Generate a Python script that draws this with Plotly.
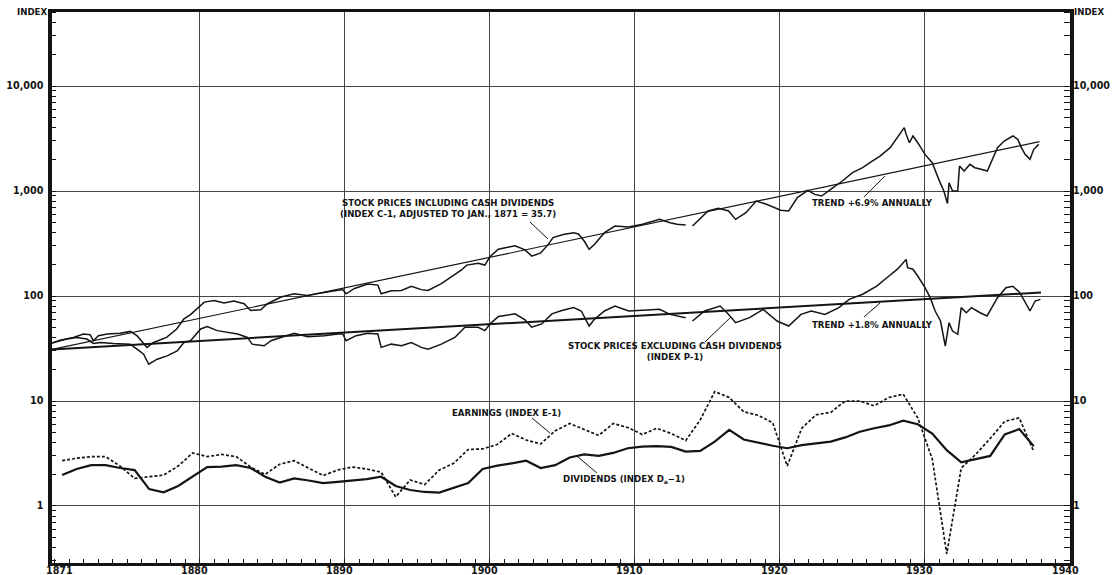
import plotly.graph_objects as go

# --- Stock price index including cash dividends (Index C-1), monthly-ish readings
c1_years = [1869.8, 1870.36, 1871.28, 1871.97, 1872.43, 1872.66, 1873.0, 1873.6, 1874.5, 1875.2,
            1875.66, 1876.1, 1876.35, 1876.8, 1877.7, 1878.4, 1878.9, 1879.35, 1879.8, 1880.3,
            1880.97, 1881.66, 1882.35, 1883.05, 1883.5, 1884.2, 1884.66, 1885.6, 1886.5, 1887.4,
            1888.35, 1889.27, 1889.85, 1890.08, 1890.66, 1891.58, 1892.27, 1892.5, 1893.2, 1893.9,
            1894.58, 1895.27, 1895.73, 1896.65, 1897.35, 1898.04, 1898.4, 1899.2, 1899.65, 1900.0,
            1900.58, 1901.73, 1902.42, 1902.88, 1903.5, 1904.0, 1904.35, 1905.06, 1905.77, 1906.1,
            1906.5, 1906.84, 1907.2, 1907.9, 1908.62, 1909.57, 1910.52, 1911.7, 1912.42, 1912.9,
            1913.5, None, 1913.97, 1914.56, 1915.04, 1915.75, 1916.46, 1916.94, 1917.65, 1918.36,
            1919.07, 1920.05, 1920.6, 1921.2, 1921.92, 1922.4, 1922.87, 1923.59, 1924.3, 1925.0,
            1925.7, 1926.2, 1926.9, 1927.6, 1928.1, 1928.57, 1928.7, 1928.93, 1929.17, 1929.5,
            1930.0, 1930.5, 1930.95, 1931.3, 1931.55, 1931.66, 1931.9, 1932.26, 1932.38, 1932.7,
            1933.1, 1933.44, 1933.8, 1934.3, 1935.0, 1935.46, 1936.06, 1936.4, 1936.65, 1936.9,
            1937.24, 1937.5, 1937.84]
c1_values = [35.7, 38.0, 40.3, 43.5, 42.8, 37.5, 41.9, 43.5, 44.1, 46.0,
             41.9, 35.3, 32.4, 36.1, 40.3, 48.5, 60.5, 66.6, 75.5, 87.5,
             90.8, 85.7, 89.6, 84.4, 72.8, 73.9, 84.4, 97.7, 105, 101,
             107, 112, 115, 105, 118, 130, 127, 105, 112, 113,
             124, 115, 113, 131, 152, 177, 197, 205, 197, 237,
             279, 301, 275, 240, 257, 307, 360, 386, 401, 390,
             334, 278, 310, 401, 464, 454, 482, 537, 499, 482,
             475, None, 464, 557, 646, 684, 646, 537, 622, 803,
             747, 655, 646, 865, 1014, 929, 896, 1060, 1245, 1496,
             1667, 1862, 2153, 2588, 3223, 4010, 3467, 2884, 3342, 2884,
             2233, 1862, 1291, 1000, 760, 1200, 1000, 1000, 1730, 1550,
             1795, 1667, 1620, 1550, 2588, 2995, 3342, 3105, 2588, 2233,
             2003, 2495, 2782]

# --- Stock price index excluding cash dividends (Index P-1)
p1_years = [1869.8, 1870.82, 1871.5, 1872.2, 1872.66, 1873.13, 1874.05, 1875.2, 1875.66, 1876.12,
            1876.47, 1877.05, 1877.74, 1878.43, 1878.9, 1879.35, 1880.05, 1880.5, 1881.2, 1881.9,
            1882.6, 1883.28, 1883.6, 1884.43, 1884.9, 1885.58, 1886.5, 1887.43, 1888.58, 1889.5,
            1889.85, 1890.08, 1890.77, 1891.58, 1892.27, 1892.5, 1893.2, 1893.9, 1894.58, 1895.27,
            1895.73, 1896.65, 1897.58, 1898.27, 1899.19, 1899.65, 1900.0, 1900.58, 1901.73, 1902.42,
            1902.88, 1903.57, 1904.27, 1904.96, 1905.77, 1906.3, 1906.84, 1907.2, 1907.9, 1908.62,
            1909.57, 1910.52, 1911.7, 1912.42, 1913.5, None, 1913.97, 1914.8, 1915.87, 1916.46,
            1916.94, 1917.9, 1918.84, 1919.8, 1920.6, 1921.45, 1922.16, 1923.1, 1924.06, 1924.77,
            1925.7, 1926.67, 1927.39, 1928.1, 1928.7, 1928.8, 1929.17, 1929.5, 1930.0, 1930.36,
            1930.7, 1931.07, 1931.4, 1931.66, 1931.9, 1932.26, 1932.5, 1932.85, 1933.2, 1933.8,
            1934.28, 1935.0, 1935.58, 1936.06, 1936.53, 1936.9, 1937.24, 1937.6, 1937.96]
p1_values = [35.7, 38.9, 40.3, 38.9, 35.3, 36.1, 35.3, 34.8, 31.2, 27.9,
             22.4, 25.0, 26.9, 30.0, 36.1, 37.5, 48.5, 51.1, 46.8, 45.1,
             43.5, 40.3, 34.8, 33.6, 37.5, 40.3, 44.1, 40.9, 41.9, 43.5,
             43.5, 37.5, 41.9, 44.1, 43.5, 32.4, 34.8, 33.6, 36.1, 32.4,
             31.2, 34.8, 40.3, 50.4, 50.4, 46.8, 54.2, 63.7, 67.6, 59.2,
             50.4, 54.2, 67.6, 72.8, 77.5, 72.0, 51.8, 60.0, 72.0, 80.3,
             72.0, 73.0, 74.6, 66.8, 62.2, None, 57.8, 72.0, 80.3, 66.8,
             55.7, 62.2, 74.6, 57.8, 51.8, 66.8, 72.0, 66.8, 77.5, 92.9,
             104, 124, 150, 180, 223, 186, 180, 155, 120, 96.4,
             72.0, 57.8, 33.4, 55.7, 46.4, 43.2, 77.5, 69.3, 77.5, 69.3,
             64.6, 96.4, 120, 124, 108, 86.5, 72.0, 89.6, 92.9]

# --- Fitted trend lines (end points)
trend_c_years = [1869.8, 1937.9]
trend_c_values = [31, 2950]
trend_p_years = [1869.8, 1938.0]
trend_p_values = [31, 108]

# --- Annual earnings (Index E-1) and dividends, plotted at mid-year
annual_years = [y + 0.5 for y in range(1870, 1938)]
earnings = [2.7, 2.85, 2.95, 2.95, 2.4, 1.83, 1.9, 1.97, 2.4, 3.2,
            2.95, 3.1, 2.95, 2.35, 2.0, 2.5, 2.7, 2.3, 1.95, 2.2,
            2.35, 2.25, 2.1, 1.22, 1.77, 1.6, 2.2, 2.55, 3.45, 3.5,
            3.85, 4.9, 4.25, 3.9, 5.2, 6.1, 5.4, 4.7, 6.1, 5.6,
            4.8, 5.5, 4.9, 4.2, 6.6, 12.3, 10.8, 7.9, 7.3, 6.2,
            2.4, 5.5, 7.4, 7.8, 10.0, 10.0, 9.0, 10.8, 11.6, 6.9,
            2.8, 0.35, 2.3, 3.1, 4.4, 6.4, 6.9, 3.3]
dividends = [1.97, 2.25, 2.45, 2.45, 2.3, 2.2, 1.45, 1.35, 1.55, 1.9,
             2.35, 2.37, 2.45, 2.3, 1.9, 1.67, 1.83, 1.75, 1.65, 1.7,
             1.75, 1.8, 1.9, 1.55, 1.42, 1.36, 1.34, 1.5, 1.65, 2.25,
             2.42, 2.55, 2.7, 2.3, 2.45, 2.9, 3.1, 3.0, 3.2, 3.55,
             3.67, 3.72, 3.65, 3.3, 3.35, 4.1, 5.3, 4.3, 4.0, 3.75,
             3.55, 3.8, 3.95, 4.1, 4.5, 5.1, 5.5, 5.85, 6.5, 6.0,
             4.9, 3.4, 2.6, 2.8, 3.0, 4.8, 5.4, 3.7]

# --- Axis ticks
decade_ticks = [1880, 1890, 1900, 1910, 1920, 1930, 1940]
decade_labels = ["1880", "1890", "1900", "1910", "1920", "1930", "1940"]
first_year_label = "1871"
index_ticks = [1, 10, 100, 1000, 10000]
index_labels = ["1", "10", "100", "1,000", "10,000"]

INK = "#141414"
GRID = "#454545"
FONT = "DejaVu Sans"
X_RANGE = [1869.8, 1940]
Y_RANGE = [-0.543, 4.705]

fig = go.Figure()
fig.add_trace(go.Scatter(x=trend_c_years, y=trend_c_values, mode="lines",
                         line=dict(color=INK, width=1.2), yaxis="y2"))
fig.add_trace(go.Scatter(x=trend_p_years, y=trend_p_values, mode="lines",
                         line=dict(color=INK, width=2.0), yaxis="y2"))
fig.add_trace(go.Scatter(x=c1_years, y=c1_values, mode="lines", connectgaps=False,
                         line=dict(color=INK, width=1.5)))
fig.add_trace(go.Scatter(x=p1_years, y=p1_values, mode="lines", connectgaps=False,
                         line=dict(color=INK, width=1.5)))
fig.add_trace(go.Scatter(x=annual_years, y=earnings, mode="lines",
                         line=dict(color=INK, width=1.7, dash="3px,2px")))
fig.add_trace(go.Scatter(x=annual_years, y=dividends, mode="lines",
                         line=dict(color=INK, width=2.2)))

label_font = dict(family=FONT, size=8.6, color=INK, weight="bold")


def label(text, x, ylog):
    fig.add_annotation(x=x, y=ylog, xref="x", yref="y", text=text, showarrow=False,
                       font=label_font, align="center", xanchor="center", yanchor="middle")


def leader(x0, v0, x1, v1):
    # thin pointer from a caption to its curve (data coordinates)
    fig.add_shape(type="line", xref="x", yref="y", x0=x0, y0=v0, x1=x1, y1=v1,
                  line=dict(color=INK, width=1))


label("STOCK PRICES INCLUDING CASH DIVIDENDS<br>(INDEX C-1, ADJUSTED TO JAN., 1871 = 35.7)", 1897.1, 2.829)
label("TREND +6.9% ANNUALLY", 1926.4, 2.883)
label("STOCK PRICES EXCLUDING CASH DIVIDENDS<br>(INDEX P-1)", 1912.76, 1.476)
label("TREND +1.8% ANNUALLY", 1926.4, 1.724)
label("EARNINGS (INDEX E-1)", 1901.14, 0.886)
label("DIVIDENDS (INDEX D<sub>a</sub>\u22121)", 1909.24, 0.248)

leader(1902.76, 507, 1904.0, 349)
leader(1925.79, 877, 1927.24, 1390)
leader(1914.83, 36.5, 1916.62, 63.1)
leader(1925.79, 63.1, 1926.9, 85.8)
leader(1902.9, 6.89, 1904.14, 4.95)
leader(1907.38, 2.06, 1906.0, 2.99)

axis_font = dict(family=FONT, size=9.6, color=INK, weight="bold")
# "INDEX" headers
fig.add_annotation(x=0, y=1, xref="paper", yref="paper", text="INDEX", showarrow=False,
                   xanchor="right", yanchor="middle", xshift=-3,
                   font=dict(family=FONT, size=8.6, color=INK, weight="bold"))
fig.add_annotation(x=1, y=1, xref="paper", yref="paper", text="INDEX", showarrow=False,
                   xanchor="left", yanchor="middle", xshift=2,
                   font=dict(family=FONT, size=8.6, color=INK, weight="bold"))
# year labels sit tight under the bottom frame
year_font = dict(family=FONT, size=9.6, color=INK, weight="bold")
for yr, txt in zip(decade_ticks, decade_labels):
    fig.add_annotation(x=yr, y=0, xref="x", yref="paper", text=txt, showarrow=False,
                       xanchor="center", yanchor="middle", xshift=-5, yshift=-7.5, font=year_font)
fig.add_annotation(x=0, y=0, xref="paper", yref="paper", text=first_year_label, showarrow=False,
                   xanchor="center", yanchor="middle", xshift=7, yshift=-7.5, font=year_font)

fig.update_layout(
    width=1116, height=575,
    margin=dict(l=52, r=46, t=12, b=12),
    paper_bgcolor="white", plot_bgcolor="white",
    showlegend=False,
    xaxis=dict(range=X_RANGE, tickmode="array", tickvals=decade_ticks, ticktext=decade_labels,
               showticklabels=False,
               showgrid=True, gridcolor=GRID, gridwidth=1, zeroline=False,
               showline=True, linecolor=INK, linewidth=3, mirror=True,
               ticks="", automargin=False,
               minor=dict(ticks="inside", ticklen=4, tickwidth=1, tickcolor=INK,
                          tickmode="linear", tick0=1870, dtick=1, showgrid=False)),
    yaxis=dict(type="log", range=Y_RANGE, tickmode="array", tickvals=index_ticks, ticktext=index_labels,
               showgrid=True, gridcolor=GRID, gridwidth=1, zeroline=False,
               showline=True, linecolor=INK, linewidth=3.5, mirror=True,
               ticks="", ticklabelstandoff=3, tickfont=axis_font, automargin=False,
               minor=dict(ticks="inside", ticklen=4, tickwidth=1, tickcolor=INK, dtick="D1", showgrid=False)),
    yaxis2=dict(type="log", range=Y_RANGE, overlaying="y", side="right", tickmode="array",
                tickvals=index_ticks, ticktext=index_labels, showgrid=False, zeroline=False,
                showline=False, ticks="", ticklabelstandoff=2, tickfont=axis_font, automargin=False,
                minor=dict(ticks="inside", ticklen=6, tickwidth=1, tickcolor=INK, dtick="D1", showgrid=False)),
)

fig.write_html("out.html")
